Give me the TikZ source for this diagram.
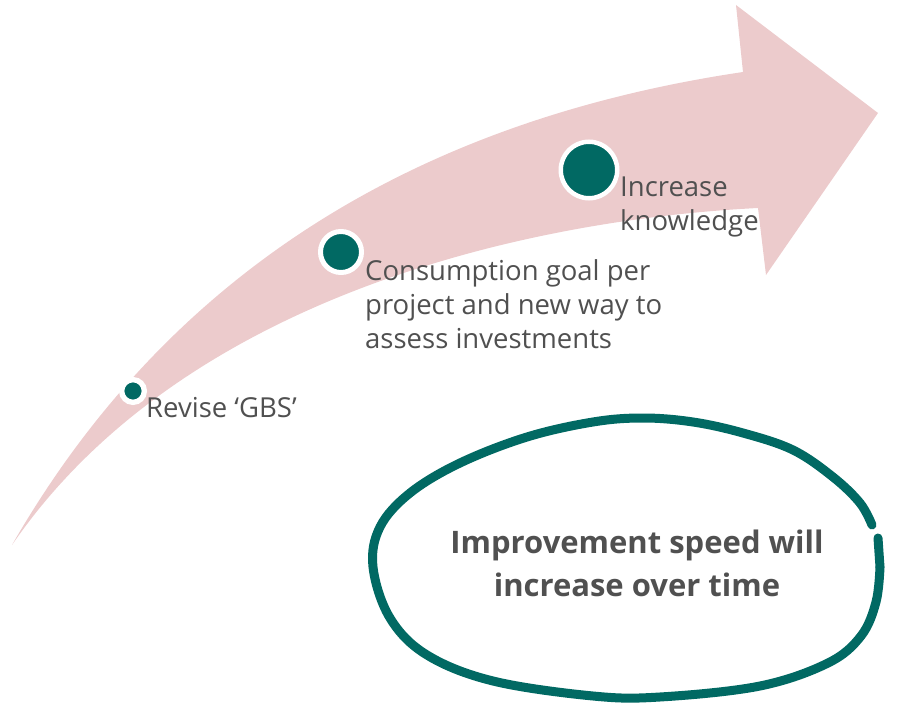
\documentclass[tikz,border=0pt]{standalone}
\usepackage{fontspec}
\setmainfont{Carlito}
\newfontfamily\labelfont{Open Sans}
\definecolor{bandpink}{HTML}{ECCBCC}
\definecolor{tealc}{HTML}{016963}
\definecolor{textgray}{HTML}{505050}
\tikzset{
  dot/.style={circle, fill=tealc, draw=white, inner sep=0pt},
  label30/.style={anchor=base west, inner sep=0pt, align=left, text=textgray,
    font=\labelfont\fontsize{27.5}{34}\selectfont},
  boldtxt/.style={anchor=base, inner sep=0pt, align=center, text=textgray,
    font=\labelfont\fontsize{31}{43}\selectfont\bfseries},
  ring/.style={draw=tealc, line width=9pt, line cap=round, line join=round}
}
\begin{document}
\begin{tikzpicture}[x=1pt,y=-1pt]
\useasboundingbox (0,0) rectangle (898,706);
% curved arrow
\fill[bandpink] (12,545) .. controls (170,270) and (420,120) .. (743,72)
  -- (736,5) -- (878,113) -- (766,275) -- (758,208)
  .. controls (520,220) and (180,300) .. (12,545) -- cycle;
% dots
\node[dot, line width=5.3pt, minimum size=22.7pt] (d1) at (133,391) {};
\node[dot, line width=5pt, minimum size=41pt] (d2) at (341,252) {};
\node[dot, line width=4.5pt, minimum size=56.5pt] (d3) at (589,170) {};
% labels (anchor = baseline of last line)
\node[label30] (t1) at (146,417) {Revise ‘GBS’};
\node[label30] (t2) at (365,348) {Consumption goal per\\project and new way to\\assess investments};
\node[label30] (t3) at (620,231) {Increase\\knowledge};
% hand-drawn ellipse
\draw[ring] plot[smooth, tension=0.6] coordinates {
  (880,567) (876,602) (861,636) (828,663) (760,686) (660,697) (593,696)
  (493,681) (427,655) (390,618) (373,567) (380,527) (410,493) (460,463)
  (527,437) (593,422) (643,418) (693,422) (743,433) (793,450) (833,477)
  (860,503) (872,525)};
\draw[ring] plot[smooth, tension=0.6] coordinates {(878,538) (880,567)};
\node[boldtxt] (t4) at (637,596) {Improvement speed will\\increase over time};
\end{tikzpicture}
\end{document}
